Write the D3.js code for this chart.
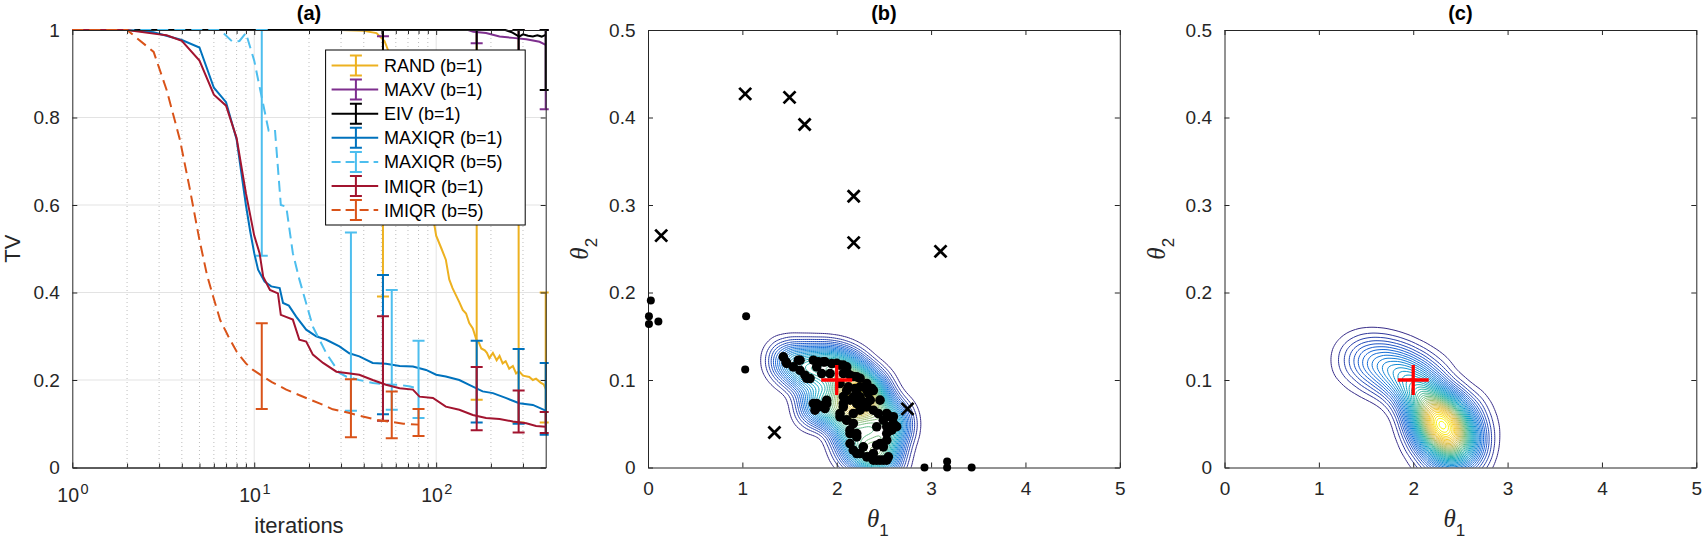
<!DOCTYPE html>
<html>
<head>
<meta charset="utf-8">
<title>TV convergence and posterior contours</title>
<script src="https://cdn.jsdelivr.net/npm/d3@7"></script>
<style>
    body { margin:0; background:white; }
    svg text { font-family:"Liberation Sans", Arial, Helvetica, sans-serif; fill:#262626; }
    .tick text { font-size:19px; }
    .title { font-size:20px; font-weight:bold; fill:#000; }
    .label { font-size:22px; }
    .legendEntry text { font-size:18px; fill:#000; }
</style>
</head>
<body>
<svg id="chart"></svg>
<script>
// ---------- panel (a): mean TV per iteration, [iteration, TV] ----------
var randMean = [[1,1],[30,1],[40,0.998],[47,0.993],[52,0.975],[56,0.94],[65,0.85],[75,0.75],[85,0.66],[95,0.585],
    [100,0.53],[107,0.5],[113,0.475],[118,0.43],[123,0.41],[134,0.378],[140,0.36],[146,0.352],[152,0.33],[159,0.318],
    [167,0.29],[172,0.285],[177,0.272],[185,0.268],[190,0.262],[196,0.25],[205,0.262],[215,0.245],[223,0.255],[232,0.238],
    [241,0.243],[252,0.226],[264,0.232],[275,0.215],[286,0.22],[300,0.21],[325,0.207],[340,0.2],[354,0.203],[375,0.194],
    [390,0.19],[400,0.18]];
var maxvMean = [[1,1],[150,1],[160,0.996],[188,0.993],[223,0.985],[264,0.982],[313,0.979],[370,0.973],[400,0.966]];
var eivMean = [[1,1],[240,1],[260,0.995],[286,0.985],[300,0.99],[320,0.987],[340,0.985],[360,0.988],[380,0.985],[400,0.989]];
var maxiqr1Mean = [[1,1],[2,1],[2.8,0.995],[4,0.977],[5,0.96],[6,0.868],[7,0.835],[8,0.75],[9,0.6],[9.5,0.54],[10,0.49],
    [10.5,0.452],[11.4,0.425],[12.4,0.414],[13.8,0.41],[14.4,0.376],[15.5,0.37],[17,0.345],[19.3,0.315],[21.9,0.3],
    [24.9,0.292],[29.4,0.277],[33.3,0.261],[37.8,0.254],[44.8,0.239],[53,0.237],[63,0.232],[74.5,0.231],[88,0.223],
    [100,0.212],[113,0.208],[134,0.2],[152,0.189],[180,0.174],[205,0.17],[241,0.159],[286,0.147],[340,0.143],[400,0.13]];
var maxiqr5Mean = [[1,1],[6.5,1],[7.6,0.973],[8.3,0.975],[9,0.993],[10,0.93],[10.7,0.87],[12,0.77],[13,0.772],[14,0.6],
    [15,0.596],[16.3,0.49],[17.7,0.43],[21,0.322],[24.9,0.261],[29.4,0.216],[32,0.208],[37.7,0.2],[41,0.197],[45,0.193],
    [53,0.19],[63,0.189],[72,0.185],[80,0.18]];
var imiqr1Mean = [[1,1],[2,1],[3,0.99],[3.3,0.988],[4,0.975],[5,0.93],[6,0.852],[7,0.827],[8,0.753],[9,0.627],[10,0.53],
    [10.7,0.49],[11.2,0.436],[12.2,0.406],[13.5,0.398],[14,0.349],[16.3,0.338],[17.7,0.292],[19.3,0.288],[21,0.258],
    [23.9,0.239],[28.3,0.219],[32,0.216],[37.8,0.212],[44.8,0.2],[53,0.189],[63,0.181],[74.5,0.178],[81,0.162],[96,0.159],
    [113,0.139],[134,0.132],[159,0.12],[188,0.113],[223,0.111],[264,0.105],[313,0.101],[354,0.095],[400,0.093]];
var imiqr5Mean = [[1,1],[2,1],[2.8,0.95],[3.3,0.863],[3.9,0.75],[4.4,0.642],[5,0.52],[5.5,0.44],[6,0.385],[6.5,0.337],
    [7.2,0.3],[8,0.265],[9,0.238],[9.85,0.223],[11,0.21],[12.5,0.195],[15,0.178],[19,0.16],[23,0.146],[27,0.133],
    [33,0.125],[40,0.116],[47,0.109],[57,0.104],[66,0.1],[80,0.098]];

// error bars, [iteration, low, high]
var randErr = [[51,0.391,1],[167,0.155,1],[284,0.103,1],[400,0.103,0.4]];
var maxvErr = [[51,0.986,1],[167,0.97,1],[284,0.95,1],[400,0.819,1]];
var eivErr = [[51,0.9,1],[167,0.88,1],[284,0.88,1],[400,0.863,1]];
var maxiqr1Err = [[51,0.122,0.44],[167,0.103,0.29],[284,0.1,0.271],[400,0.075,0.239]];
var maxiqr5Err = [[11,0.484,1],[34,0.13,0.537],[57,0.132,0.406],[80,0.113,0.29]];
var imiqr1Err = [[51,0.107,0.346],[167,0.085,0.23],[284,0.08,0.176],[400,0.079,0.127]];
var imiqr5Err = [[11,0.134,0.33],[34,0.069,0.202],[57,0.067,0.174],[80,0.072,0.134]];

var seriesNames = ["RAND (b=1)","MAXV (b=1)","EIV (b=1)","MAXIQR (b=1)","MAXIQR (b=5)","IMIQR (b=1)","IMIQR (b=5)"];
var decadeTicks = [1,10,100];
var minorIterTicks = [2,3,4,5,6,7,8,9,20,30,40,50,60,70,80,90,200,300];
var tvTicks = [0,0.2,0.4,0.6,0.8,1];

// ---------- panels (b) and (c): [theta1, theta2] ----------
var designPoints = [[1.434,0.1264],[1.463,0.1207],[1.540,0.115],[1.593,0.1226],[1.611,0.111],[1.664,0.1055],[1.717,0.1017],
    [1.752,0.1226],[1.805,0.1207],[1.876,0.1207],[1.947,0.1188],[2.035,0.117],[2.106,0.115],[1.788,0.115],[1.841,0.1074],
    [1.929,0.1074],[1.752,0.0731],[1.805,0.0693],[1.858,0.0712],[1.894,0.0769],[2.070,0.1074],[2.141,0.1055],[2.212,0.1036],
    [2.124,0.0922],[2.194,0.0903],[2.247,0.0808],[2.318,0.0884],[2.371,0.0903],[2.353,0.0769],[2.282,0.075],[2.176,0.0808],
    [2.070,0.0731],[2.035,0.0579],[2.106,0.0541],[2.176,0.0617],[2.247,0.0655],[2.318,0.0693],[2.388,0.0655],[2.441,0.0617],
    [2.494,0.0541],[2.565,0.0579],[2.600,0.0503],[2.583,0.0427],[2.530,0.0388],[2.424,0.0465],[2.141,0.0388],[2.212,0.035],
    [2.424,0.0255],[2.494,0.0236],[2.388,0.016],[2.353,0.0122],[2.424,0.0084],[2.494,0.0084],[2.547,0.0122],[2.176,0.0198],
    [2.247,0.016],[2.282,0.0236],[2.141,0.0274],[1.470,0.119],[1.611,0.1226],[1.682,0.102],[1.858,0.1207],[2.000,0.119],
    [2.070,0.117],[2.106,0.109],[2.176,0.104],[2.247,0.102],[1.788,0.073],[1.894,0.073],[1.876,0.0674],[1.770,0.0655],
    [2.035,0.096],[2.106,0.088],[2.070,0.081],[2.141,0.077],[2.212,0.073],[2.282,0.0693],[2.353,0.077],[2.388,0.088],
    [2.459,0.077],[2.530,0.0617],[2.600,0.058],[2.635,0.0467],[2.530,0.0467],[2.035,0.0617],[2.106,0.0541],[2.176,0.0503],
    [2.141,0.0427],[2.212,0.0388],[2.212,0.016],[2.318,0.0122],[2.388,0.0084],[2.459,0.0084],[2.530,0.0084],[2.459,0.0274],
    [2.530,0.0312],[2.070,0.0693],[2.212,0.0846],[2.247,0.092],[2.318,0.096],[2.335,0.0846]];
var outlierPoints = [[0.03,0.191],[0.01,0.173],[0.01,0.164],[0.11,0.167],[1.04,0.173],[1.03,0.112],
    [2.93,0],[3.17,0.007],[3.17,0],[3.43,0]];
var batchPoints = [[1.03,0.427],[1.50,0.423],[1.66,0.392],[2.18,0.31],[2.18,0.257],[3.10,0.247],[0.14,0.265],
    [2.75,0.067],[1.34,0.04]];
var trueTheta = [2, 0.1];
// posterior mass along the ridge, [theta1, theta2, weight]
var posteriorMass = [[2.30,0.050,10],[2.22,0.062,8],[2.38,0.038,8],[2.14,0.074,6],[2.45,0.026,6],[2.05,0.086,4],
    [2.50,0.014,4],[1.95,0.096,3],[1.85,0.105,2.5],[1.72,0.112,2],[1.58,0.118,1.5],[1.45,0.122,1],[2.20,0.035,4],
    [2.40,0.065,4],[2.10,0.050,2],[2.55,0.045,2],[2.30,0.010,3],[2.00,0.110,2],[1.32,0.12,0.7],[1.40,0.128,0.8],
    [1.55,0.130,1],[1.70,0.126,1.2],[1.85,0.121,1.5],[1.60,0.100,0.8],[2.65,0.030,1.5],[2.60,0.060,1.5],[2.20,0.100,2]];
var theta1Ticks = [0,1,2,3,4,5];
var theta2Ticks = [0,0.1,0.2,0.3,0.4,0.5];

var parula = d3.interpolateRgbBasis(["#352a87","#0f5cdd","#1481d6","#06a4ca","#2eb7a4","#87bf77","#d1bb59","#fec832","#f9fb0e"]);
var axisColor = "#262626";

var svg = d3.select("#chart").attr("width",1706).attr("height",542);
var defs = svg.append("defs");

var styleAxis = function(sel)
{
    sel.selectAll(".domain").attr("stroke", axisColor).attr("stroke-width",1);
    sel.selectAll(".tick line").attr("stroke", axisColor).attr("stroke-width",1);
}

var addClip = function(id, frame, pad)
{
    defs.append("clipPath").attr("id", id)
        .append("rect")
        .attr("x", -pad).attr("y", -pad)
        .attr("width", frame.width + 2*pad)
        .attr("height", frame.height + 2*pad);
}

var drawBoxAxes = function(g, frame, xScale, yScale, xTicks, yTicks, xFormat, yFormat)
{
    var gx = g.append("g")
        .attr("transform","translate(0,"+frame.height+")")
        .call(d3.axisBottom(xScale).tickValues(xTicks).tickSize(-5).tickSizeOuter(0).tickPadding(14).tickFormat(xFormat));
    var gt = g.append("g")
        .call(d3.axisTop(xScale).tickValues(xTicks).tickSize(-5).tickSizeOuter(0).tickFormat(""));
    var gy = g.append("g")
        .call(d3.axisLeft(yScale).tickValues(yTicks).tickSize(-5).tickSizeOuter(0).tickPadding(12.5).tickFormat(yFormat));
    var gr = g.append("g")
        .attr("transform","translate("+frame.width+",0)")
        .call(d3.axisRight(yScale).tickValues(yTicks).tickSize(-5).tickSizeOuter(0).tickFormat(""));
    [gx,gt,gy,gr].forEach(styleAxis);
    return gx;
}

// ---------------- panel (a) ----------------
var drawPanelA = function(frame)
{
    var series = [
        {name:seriesNames[0], mean:randMean,    err:randErr,    color:"#EDB120", dash:null},
        {name:seriesNames[1], mean:maxvMean,    err:maxvErr,    color:"#7E2F8E", dash:null},
        {name:seriesNames[2], mean:eivMean,     err:eivErr,     color:"#000000", dash:null},
        {name:seriesNames[3], mean:maxiqr1Mean, err:maxiqr1Err, color:"#0072BD", dash:null},
        {name:seriesNames[4], mean:maxiqr5Mean, err:maxiqr5Err, color:"#4DBEEE", dash:"11,6"},
        {name:seriesNames[5], mean:imiqr1Mean,  err:imiqr1Err,  color:"#A2142F", dash:null},
        {name:seriesNames[6], mean:imiqr5Mean,  err:imiqr5Err,  color:"#D95319", dash:"11,6"}
    ];

    var g = svg.append("g")
        .classed("graph", true)
        .attr("transform","translate("+frame.left+","+frame.top+")");

    var xScale = d3.scaleLog().domain([1,400]).range([0,frame.width]);
    var yScale = d3.scaleLinear().domain([0,1]).range([frame.height,0]);

    // grid
    g.append("g").selectAll("line")
        .data(minorIterTicks).enter().append("line")
        .attr("x1",function(d){return xScale(d);}).attr("x2",function(d){return xScale(d);})
        .attr("y1",0).attr("y2",frame.height)
        .attr("stroke","#bdbdbd").attr("stroke-dasharray","1,3");
    g.append("g").selectAll("line")
        .data(decadeTicks.slice(1)).enter().append("line")
        .attr("x1",function(d){return xScale(d);}).attr("x2",function(d){return xScale(d);})
        .attr("y1",0).attr("y2",frame.height)
        .attr("stroke","#e3e3e3");
    g.append("g").selectAll("line")
        .data(tvTicks.slice(1,-1)).enter().append("line")
        .attr("y1",function(d){return yScale(d);}).attr("y2",function(d){return yScale(d);})
        .attr("x1",0).attr("x2",frame.width)
        .attr("stroke","#e3e3e3");

    addClip("clipA", frame, 3);
    var plot = g.append("g").attr("clip-path","url(#clipA)");

    var lineGenerator = d3.line()
        .x(function(d){return xScale(d[0]);})
        .y(function(d){return yScale(d[1]);});

    series.forEach(function(s)
    {
        var sg = plot.append("g").attr("stroke", s.color).attr("stroke-width",2).attr("fill","none");
        sg.append("path")
            .datum(s.mean)
            .attr("d", lineGenerator)
            .attr("stroke-dasharray", s.dash);
        var bars = sg.selectAll("g")
            .data(s.err).enter().append("g");
        bars.append("line")
            .attr("x1",function(d){return xScale(d[0]);}).attr("x2",function(d){return xScale(d[0]);})
            .attr("y1",function(d){return yScale(d[1]);}).attr("y2",function(d){return yScale(d[2]);});
        bars.append("line")
            .attr("x1",function(d){return xScale(d[0])-6;}).attr("x2",function(d){return xScale(d[0])+6;})
            .attr("y1",function(d){return yScale(d[1]);}).attr("y2",function(d){return yScale(d[1]);});
        bars.append("line")
            .attr("x1",function(d){return xScale(d[0])-6;}).attr("x2",function(d){return xScale(d[0])+6;})
            .attr("y1",function(d){return yScale(d[2]);}).attr("y2",function(d){return yScale(d[2]);});
    });

    // axes (box)
    var gx = drawBoxAxes(g, frame, xScale, yScale, decadeTicks, tvTicks, function(d){return "";}, d3.format("~g"));
    gx.selectAll(".tick text")
        .attr("dy", null).attr("y", 34).attr("x", -15.5)
        .attr("text-anchor","start")
        .style("font-size","19.5px")
        .each(function(d)
        {
            var t = d3.select(this);
            t.append("tspan").text("10");
            t.append("tspan").attr("dx",1.5).attr("dy",-8).style("font-size","14.5px").text(Math.round(Math.log10(d)));
        });
    var minorB = g.append("g").attr("transform","translate(0,"+frame.height+")")
        .call(d3.axisBottom(xScale).tickValues(minorIterTicks).tickSize(-4).tickSizeOuter(0).tickFormat(""));
    var minorT = g.append("g")
        .call(d3.axisTop(xScale).tickValues(minorIterTicks).tickSize(-4).tickSizeOuter(0).tickFormat(""));
    styleAxis(minorB); styleAxis(minorT);

    // labels
    g.append("text").classed("title",true)
        .attr("x", frame.width/2).attr("y",-10).attr("text-anchor","middle").text("(a)");
    g.append("text").classed("label",true)
        .attr("x", frame.width/2 - 10).attr("y", frame.height + 65).attr("text-anchor","middle").text("iterations");
    g.append("text").classed("label",true)
        .attr("transform","translate(-52,"+(frame.height/2)+") rotate(-90)")
        .attr("text-anchor","middle").text("TV");

    // legend
    var legend = g.append("g")
        .classed("legend",true)
        .attr("transform","translate(253.3,20)");
    legend.append("rect")
        .attr("width",199.6).attr("height",175)
        .attr("fill","white").attr("stroke","#000").attr("stroke-width",1);
    var entries = legend.selectAll("g")
        .data(series).enter().append("g")
        .classed("legendEntry",true)
        .attr("transform",function(s,i){return "translate(0,"+(15.5+i*24.1)+")";});
    entries.append("line")
        .attr("x1",6).attr("x2",52.6).attr("y1",0).attr("y2",0)
        .attr("stroke",function(s){return s.color;}).attr("stroke-width",2)
        .attr("stroke-dasharray",function(s){return s.dash ? "9,5" : null;});
    entries.append("path")
        .attr("d","M30.3,-10V10M24.3,-10H36.3M24.3,10H36.3")
        .attr("fill","none")
        .attr("stroke",function(s){return s.color;}).attr("stroke-width",2);
    entries.append("text")
        .attr("x",58.3).attr("y",6.5)
        .text(function(s){return s.name;});
}

// ---------------- panels (b), (c) ----------------
var initThetaPanel = function(frame, title, clipId)
{
    var g = svg.append("g")
        .classed("graph", true)
        .attr("transform","translate("+frame.left+","+frame.top+")");
    var xScale = d3.scaleLinear().domain([0,5]).range([0,frame.width]);
    var yScale = d3.scaleLinear().domain([0,0.5]).range([frame.height,0]);
    addClip(clipId, frame, 0);

    g.append("text").classed("title",true)
        .attr("x", frame.width/2).attr("y",-10).attr("text-anchor","middle").text(title);

    var xl = g.append("text").classed("label",true)
        .attr("x", frame.width/2 - 6).attr("y", frame.height + 59).attr("text-anchor","middle");
    xl.append("tspan").style("font-family","'Liberation Serif', serif").style("font-style","italic").style("font-size","25px").text("θ");
    xl.append("tspan").attr("dy",9).style("font-size","17px").text("1");

    var yl = g.append("text").classed("label",true)
        .attr("transform","translate(-60,"+(frame.height/2)+") rotate(-90)")
        .attr("text-anchor","middle");
    yl.append("tspan").style("font-family","'Liberation Serif', serif").style("font-style","italic").style("font-size","25px").text("θ");
    yl.append("tspan").attr("dy",9).style("font-size","17px").text("2");

    return {g:g, xScale:xScale, yScale:yScale};
}

var drawContours = function(panel, frame, clipId, points, weight, bandwidth, count)
{
    var contours = d3.contourDensity()
        .x(function(d){return panel.xScale(d[0]);})
        .y(function(d){return panel.yScale(d[1]);})
        .weight(weight)
        .size([frame.width, frame.height + 80])
        .cellSize(2)
        .bandwidth(bandwidth)
        .thresholds(count)(points);
    var color = d3.scaleSequential(parula)
        .domain(d3.extent(contours, function(c){return c.value;}));
    panel.g.append("g")
        .attr("clip-path","url(#"+clipId+")")
        .selectAll("path")
        .data(contours).enter().append("path")
        .attr("d", d3.geoPath())
        .attr("fill","none")
        .attr("stroke", function(c){return color(c.value);})
        .attr("stroke-width",1);
}

var drawTrueTheta = function(panel)
{
    var cx = panel.xScale(trueTheta[0]), cy = panel.yScale(trueTheta[1]);
    panel.g.append("path")
        .attr("d","M"+(cx-15.5)+","+cy+"H"+(cx+15.5)+"M"+cx+","+(cy-15)+"V"+(cy+15))
        .attr("stroke","#ff0000").attr("stroke-width",3.3).attr("fill","none");
}

var drawPanelB = function(frame)
{
    var panel = initThetaPanel(frame, "(b)", "clipB");
    drawContours(panel, frame, "clipB", designPoints, function(){return 1;}, 12, 36);
    drawBoxAxes(panel.g, frame, panel.xScale, panel.yScale, theta1Ticks, theta2Ticks, d3.format("~g"), d3.format("~g"));

    panel.g.append("g").selectAll("circle")
        .data(designPoints).enter().append("circle")
        .attr("cx",function(d){return panel.xScale(d[0]);})
        .attr("cy",function(d){return panel.yScale(d[1]);})
        .attr("r",4.8)
        .attr("fill","#000");
    panel.g.append("g").selectAll("circle")
        .data(outlierPoints).enter().append("circle")
        .attr("cx",function(d){return panel.xScale(d[0]);})
        .attr("cy",function(d){return panel.yScale(d[1]);})
        .attr("r",4)
        .attr("fill","#000");

    panel.g.append("g").selectAll("path")
        .data(batchPoints).enter().append("path")
        .attr("d",function(d)
        {
            var x = panel.xScale(d[0]), y = panel.yScale(d[1]), s = 6;
            return "M"+(x-s)+","+(y-s)+"L"+(x+s)+","+(y+s)+"M"+(x-s)+","+(y+s)+"L"+(x+s)+","+(y-s);
        })
        .attr("stroke","#000").attr("stroke-width",2.8).attr("fill","none");

    drawTrueTheta(panel);
}

var drawPanelC = function(frame)
{
    var panel = initThetaPanel(frame, "(c)", "clipC");
    drawContours(panel, frame, "clipC", posteriorMass, function(d){return d[2];}, 15, 32);
    drawBoxAxes(panel.g, frame, panel.xScale, panel.yScale, theta1Ticks, theta2Ticks, d3.format("~g"), d3.format("~g"));
    drawTrueTheta(panel);
}

drawPanelA({left:72.3, top:30, width:473.4, height:437.5});
drawPanelB({left:648, top:30, width:471.8, height:437.5});
drawPanelC({left:1224.5, top:30, width:471.8, height:437.5});
</script>
</body>
</html>
